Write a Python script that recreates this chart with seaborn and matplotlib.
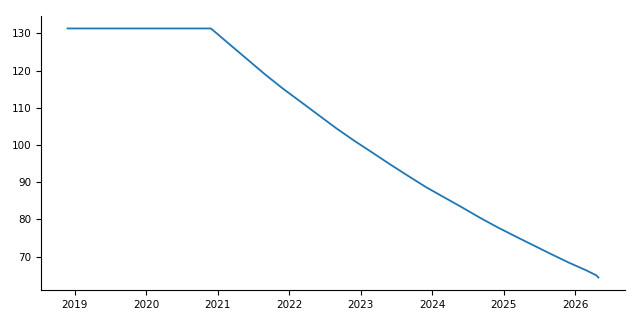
import matplotlib
matplotlib.use("Agg")
import matplotlib.pyplot as plt
import seaborn as sns
import pandas as pd

dates = ["2018-11-25", "2020-11-27", "2021-03-01", "2021-06-01", "2021-09-01",
         "2021-12-01", "2022-03-01", "2022-06-01", "2022-09-01", "2022-12-01",
         "2023-03-01", "2023-06-01", "2023-09-01", "2023-12-01", "2024-03-01",
         "2024-06-01", "2024-09-01", "2024-12-01", "2025-03-01", "2025-06-01",
         "2025-09-01", "2025-12-01", "2026-03-01", "2026-04-20", "2026-05-01"]
values = [131.3, 131.3, 127.1, 123.0, 118.9,
          115.1, 111.6, 108.0, 104.4, 101.1,
          98.0, 94.8, 91.7, 88.7, 86.0,
          83.3, 80.5, 77.9, 75.5, 73.1,
          70.7, 68.4, 66.3, 65.0, 64.4]

df = pd.DataFrame({"date": pd.to_datetime(dates), "value": values})

fig, ax = plt.subplots(figsize=(6.4, 3.2), dpi=100)
sns.lineplot(data=df, x="date", y="value", ax=ax, color="#1f77b4", linewidth=1.3)
ax.set_xlabel("")
ax.set_ylabel("")
ax.tick_params(labelsize=7.5, colors="black")
sns.despine(ax=ax)
fig.subplots_adjust(left=41/640, right=625/640, top=1-16/320, bottom=1-290/320)
fig.savefig("out.png", dpi=100)
